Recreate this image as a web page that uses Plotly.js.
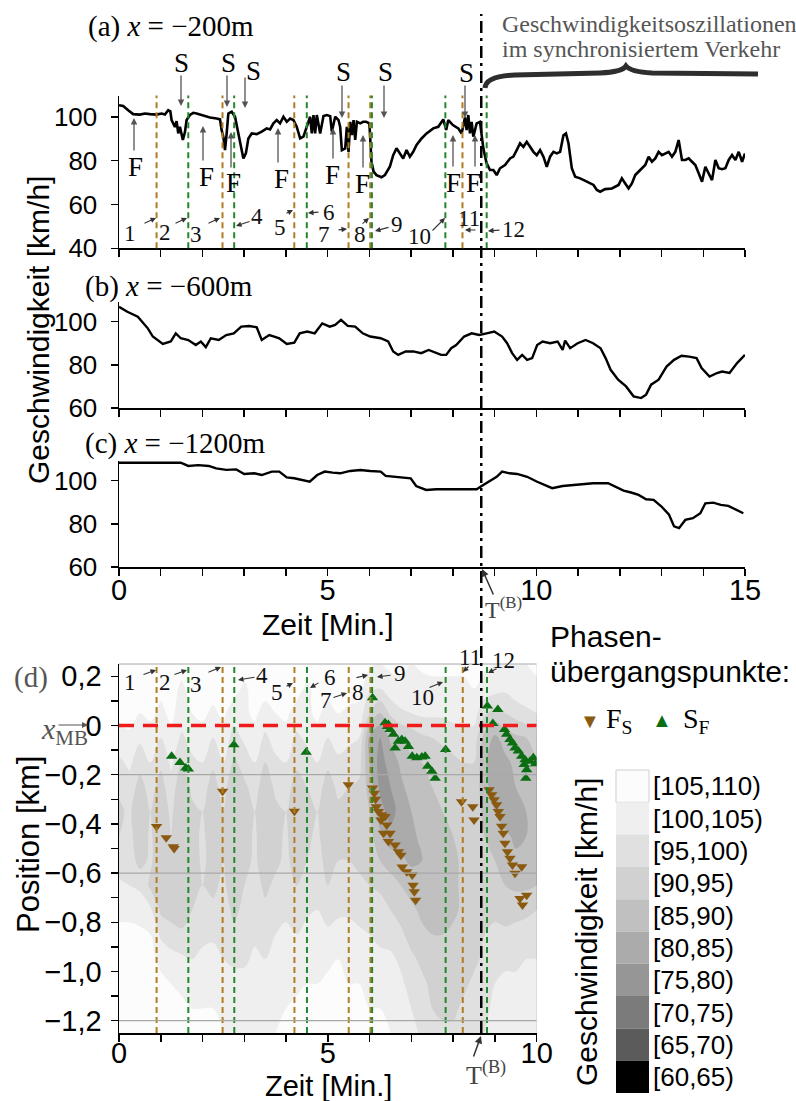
<!DOCTYPE html>
<html><head><meta charset="utf-8">
<script src="https://cdn.plot.ly/plotly-3.0.1.min.js"></script>
<style>html,body{margin:0;padding:0;background:#fff}#chart{width:796px;height:1101px}</style>
</head><body><div id="chart"></div><script>
// ---------------- DATA ----------------
// (a) x = -200 m : time [min], speed [km/h]
const tA = [0,0.1,0.22,0.34,0.5,0.62,0.74,0.9,1.02,1.1,1.18,1.23,1.26,1.34,1.38,1.42,1.46,1.53,1.58,1.62,1.7,1.78,1.86,1.98,2.18,2.34,2.42,2.46,2.5,2.54,2.56,2.58,2.62,2.7,2.78,2.86,2.94,2.98,3.04,3.1,3.18,3.3,3.42,3.54,3.62,3.7,3.78,3.86,3.94,4.02,4.1,4.18,4.26,4.34,4.42,4.5,4.58,4.62,4.66,4.7,4.74,4.82,4.9,4.98,5.06,5.1,5.18,5.26,5.3,5.34,5.42,5.46,5.5,5.54,5.58,5.62,5.66,5.7,5.78,5.85,5.92,6.0,6.05,6.1,6.17,6.29,6.37,6.49,6.57,6.65,6.73,6.81,6.89,6.97,7.05,7.13,7.25,7.37,7.53,7.65,7.77,7.84,7.89,8.0,8.13,8.21,8.29,8.33,8.37,8.41,8.45,8.49,8.53,8.57,8.65,8.69,8.73,8.81,8.89,8.97,9.05,9.13,9.25,9.37,9.45,9.53,9.61,9.69,9.77,9.85,9.93,10.01,10.09,10.17,10.25,10.33,10.41,10.49,10.57,10.65,10.71,10.77,10.85,10.93,11.05,11.21,11.37,11.45,11.53,11.65,11.81,11.97,12.05,12.13,12.21,12.29,12.37,12.49,12.61,12.69,12.77,12.85,12.93,13.01,13.09,13.17,13.25,13.33,13.41,13.49,13.57,13.65,13.73,13.81,13.89,13.97,14.05,14.13,14.21,14.29,14.37,14.45,14.53,14.61,14.69,14.77,14.85,14.93,15.0];
const vA = [105.3,104.9,103,101.2,101,101.5,101.2,101,101.5,101,103,102.5,98.5,95.4,98,92.4,95.4,89.4,93,98.5,100.8,101.8,101.5,100.8,99.7,99.2,98.8,93.9,90.9,84.8,88,92.4,101.5,102.3,100,92.4,85.6,81,83.3,90.1,92.4,92.1,93.2,94.7,94.2,97,98.5,97,100,97.7,99.2,98.5,95.4,90.1,90.9,95.4,100,92.4,100.8,92.4,100.8,92.4,100.3,100.8,100.3,93.2,100,98.5,95.4,84.8,85.6,95.4,84,97.7,91.6,98.5,89.4,97.7,97,97.7,97.7,97,79.5,75,73.4,72.4,73.4,77.2,82.5,85.6,83.3,81,84.8,81.8,84,87.1,90.1,92.4,94.7,95.4,98.8,94,98.5,96.2,94.7,92.4,99.7,93.9,100.8,92.4,97.7,90.9,93.9,97,97.7,92.4,85.6,78.7,75.7,75.7,73.4,76.5,78,81,81.8,84.8,87.9,86.3,88.6,86.3,84,82.5,84.8,81.8,77.2,81.8,84,83.3,84,91.6,92.4,87.9,76.5,72.7,71.9,70.4,68.9,66.6,65.8,67,67.3,68.9,71.9,69.6,67.3,69.6,73.4,75.7,78,81.8,79.5,81,84,82.5,83.3,84,81.8,84,89.4,80.3,80.3,81,79.5,78,74.2,70.4,77.2,74.2,71.1,80.3,76.5,76.1,76.5,80.3,82.5,80.3,84,79.5,83.3];
// (b) x = -600 m
const tB = [0,0.2,0.45,0.69,0.81,1.05,1.24,1.36,1.48,1.66,1.84,1.96,2.08,2.2,2.39,2.57,2.75,2.93,3.12,3.3,3.42,3.6,3.72,3.84,4.02,4.2,4.33,4.51,4.69,4.87,5.05,5.18,5.32,5.48,5.66,5.84,6.02,6.27,6.45,6.57,6.69,6.87,7.05,7.24,7.42,7.6,7.72,7.84,7.96,8.08,8.27,8.45,8.63,8.81,8.99,9.18,9.3,9.42,9.54,9.66,9.78,9.9,10.02,10.15,10.33,10.51,10.63,10.69,10.81,10.99,11.18,11.36,11.54,11.66,11.78,11.96,12.15,12.33,12.51,12.63,12.75,12.93,13.12,13.3,13.48,13.66,13.84,13.96,14.15,14.33,14.45,14.63,14.81,15.0];
const vB = [106.9,104.6,102.3,96.9,93.1,89.7,90.8,94.6,92.3,91.5,89.2,90.8,88.2,92.3,91.5,93.8,94.6,97.7,98,97.4,91.5,93.8,93.1,92.3,89.7,90.3,94.6,95.4,94.6,99.2,97.7,98.5,100.8,98,97.7,94.6,93.1,92.3,90.8,86.2,84.6,86.2,86.2,85.4,86.9,85.4,84.6,84.6,87.7,89.2,93.1,94.6,93.8,94.6,95.4,93.1,90,85.4,82.3,84.6,82.3,83.1,89.2,90.8,90,90.8,86.9,91.2,87.7,90,91.5,90,87.7,83.1,77.7,73.1,70,65.4,64.6,66.2,70.8,73.1,79.2,82.3,84.2,83.8,83.1,78.5,74.6,76.2,76.9,76.2,80.8,84.6];
// (c) x = -1200 m
const tC = [0,1.48,1.66,1.9,2.15,2.33,2.57,2.81,3.0,3.24,3.42,3.66,3.84,4.02,4.2,4.39,4.57,4.75,4.93,5.12,5.3,5.54,5.78,6.02,6.27,6.39,6.57,6.81,6.99,7.12,7.36,7.6,7.84,8.08,8.33,8.57,8.69,8.87,9.05,9.18,9.36,9.54,9.78,10.02,10.2,10.38,10.63,10.99,11.36,11.72,11.9,12.09,12.27,12.45,12.63,12.81,13.0,13.18,13.3,13.42,13.57,13.75,13.93,14.05,14.24,14.42,14.6,14.78,14.96];
const vC = [108.3,108.3,106.8,107.2,106.8,105.7,105,105.2,103.1,103.4,102.6,104.2,104.2,101.5,101.1,100.3,99.5,102.6,104.2,103.7,103.4,104.5,104.9,104.5,104.2,102.2,101.8,101.5,101.1,97.5,95.7,96,96,96,95.7,96,97.5,99.5,101.8,104.2,103.4,103.1,101.8,99.5,98,96.5,97.5,98.3,98.8,98.8,97.2,95.4,94.5,93.4,91.4,91.1,88,84.2,78.8,78,81.8,82.6,84.9,89.5,89.8,88.8,88.3,86.5,84.9];

// (d) speed field: time grid [min], position grid [km], speed [km/h]
const dTime = [0,0.25,0.5,0.75,1,1.25,1.5,1.75,2,2.25,2.5,2.75,3,3.25,3.5,3.75,4,4.25,4.5,4.75,5,5.25,5.5,5.75,6,6.25,6.5,6.75,7,7.25,7.5,7.75,8,8.25,8.5,8.75,9,9.25,9.5,9.75,10];
const dPos = [0.25,0.15,0.05,-0.05,-0.15,-0.25,-0.35,-0.45,-0.55,-0.65,-0.75,-0.85,-0.95,-1.05,-1.15,-1.25];
const speedGrid = [
 [107,107,107,107,107,107,107,107,107,107,107,107,107,107,107,107,107,107,107,107,107,107,107,107,106,105,106,106,105,106,106,106,106,106,106,106,105,104,105,105,106],
 [107,107,107,107,106,107,104,107,107,107,106,107,104,107,107,106,107,107,104,107,107,106,107,107,101,100,103,104,104,103,104,104,104,104,105,103,102,101,103,103,104],
 [106,107,105,106,104,106,103,105,106,104,106,102,104,106,103,105,106,103,104,106,103,105,104,103,95,90,96,99,100,101,101,101,102,102,102,96,93,95,97,99,100],
 [103,104,101,103,100,104,99,102,103,100,103,98,101,103,99,102,103,99,101,103,100,102,101,100,84,80,86,90,92,94,95,96,97,98,98,88,84,87,89,90,92],
 [99,101,97,100,96,101,95,99,100,96,100,94,97,100,95,99,100,96,98,100,96,99,98,97,85,78,82,86,89,90,92,93,94,95,95,86,81,84,86,88,90],
 [96,98,93,97,93,98,91,96,97,93,97,91,94,97,92,96,97,93,95,97,93,96,95,94,88,79,80,84,87,88,90,91,92,93,93,87,82,82,85,86,88],
 [94,96,91,95,92,96,90,94,95,91,95,90,93,95,91,94,95,92,93,95,92,94,93,92,90,82,78,82,85,86,88,90,91,92,92,89,85,82,83,85,86],
 [95,97,91,96,91,95,90,93,96,92,94,90,92,96,91,93,96,91,94,96,92,93,94,93,92,86,82,83,84,86,87,89,90,91,92,90,88,86,84,85,86],
 [97,98,93,96,91,93,90,92,96,93,95,91,93,96,92,94,96,93,95,97,93,95,95,94,94,90,88,86,84,85,86,88,89,91,92,91,90,88,86,87,88],
 [101,100,99,94,91,92,90,93,95,94,96,92,95,97,94,96,97,95,96,98,95,96,97,96,95,94,92,90,88,87,86,87,89,91,92,92,92,90,89,89,90],
 [104,104,103,101,94,93,92,95,97,96,97,94,96,98,96,98,99,97,99,100,98,99,99,98,98,97,95,93,91,89,88,88,89,91,92,93,94,93,93,94,95],
 [106,106,106,105,99,97,96,98,99,99,98,96,97,99,98,100,101,100,102,102,101,102,102,101,100,99,98,96,93,91,90,90,91,92,93,95,96,96,97,97,97],
 [106,106,106,106,104,102,101,100,101,102,100,99,99,101,100,101,102,102,104,104,104,105,104,103,102,101,101,99,96,94,92,92,92,93,94,96,98,99,99,100,100],
 [107,107,106,106,106,105,104,104,103,104,103,102,102,103,103,103,104,104,105,105,106,106,105,105,104,103,103,101,98,96,94,93,93,94,96,98,100,101,101,102,102],
 [107,107,107,107,106,106,106,105,105,105,104,104,104,104,105,104,105,106,106,106,106,106,106,106,105,105,104,103,100,97,95,94,94,96,98,99,101,102,103,103,104],
 [107,107,107,107,107,107,106,106,106,106,105,105,105,105,105,105,106,106,106,106,106,106,106,106,106,106,105,104,102,99,97,96,96,97,99,100,102,103,104,104,105]
];
// phase transition points F->S (down triangles) and S->F (up triangles)
const fsTime = [0.9,1.13,1.3,1.32,2.48,4.2,5.49,6.07,6.11,6.14,6.16,6.21,6.29,6.37,6.27,6.41,6.33,6.49,6.45,6.61,6.69,6.75,6.78,6.89,7.02,7.04,7.07,7.1,8.2,8.47,8.5,8.86,8.92,8.98,9.04,9.08,9.12,9.16,9.2,9.24,9.3,9.36,9.42,9.48,9.64,9.6,9.66,9.76];
const fsPos = [-0.411,-0.456,-0.493,-0.5,-0.267,-0.349,-0.241,-0.254,-0.275,-0.3,-0.33,-0.35,-0.363,-0.37,-0.384,-0.404,-0.438,-0.438,-0.472,-0.486,-0.513,-0.527,-0.575,-0.595,-0.608,-0.649,-0.676,-0.71,-0.31,-0.33,-0.384,-0.261,-0.281,-0.302,-0.322,-0.35,-0.37,-0.41,-0.438,-0.479,-0.513,-0.54,-0.567,-0.601,-0.574,-0.703,-0.73,-0.69];
const sfTime = [1.26,1.46,1.6,1.66,2.75,4.48,6.07,6.37,6.45,6.43,6.49,6.57,6.61,6.69,6.77,6.85,6.93,7.02,7.13,7.25,7.33,7.39,7.49,7.57,7.82,8.82,9.07,8.95,9.23,9.28,9.36,9.42,9.48,9.56,9.64,9.72,9.7,9.76,9.74,9.92,9.97,9.84];
const sfPos = [-0.125,-0.15,-0.173,-0.177,-0.078,-0.109,0.113,0.011,0.004,-0.004,-0.016,-0.036,-0.091,-0.064,-0.057,-0.064,-0.085,-0.125,-0.131,-0.128,-0.125,-0.166,-0.186,-0.214,-0.098,0.079,0.065,0.008,-0.016,-0.036,-0.057,-0.071,-0.091,-0.104,-0.125,-0.139,-0.159,-0.18,-0.214,-0.131,-0.155,-0.145];
// numbered transition times (minutes) and their type
const transitionTimes = [0.9,1.66,2.48,2.76,4.2,4.5,5.5,6.02,6.06,7.82,8.23,8.81];
const transitionKind  = ['FS','SF','FS','SF','FS','SF','FS','FS','SF','SF','FS','SF'];
const tBreak = 8.68;                 // T^(B)
const detectorPos = [-0.2,-0.6,-1.2]; // km
const mbPos = 0;                       // x_MB
const levelLabels = ['[105,110)','[100,105)','[95,100)','[90,95)','[85,90)','[80,85)','[75,80)','[70,75)','[65,70)','[60,65)'];
const levelColors = ['#fcfcfc','#efefef','#e0e0e0','#d1d1d1','#c0c0c0','#ababab','#969696','#7b7b7b','#5b5b5b','#000000'];

// ---------------- LAYOUT HELPERS ----------------
const W = 796, H = 1101;
const px = v => v / W, py = v => 1 - v / H;
const SANS = 'Liberation Sans, Arial, Helvetica, sans-serif';
const SERIF = 'Liberation Serif, Times New Roman, serif';
const BROWN_L = '#b07d24', GREEN_L = '#22882a';
const BROWN_M = '#8a5a10', GREEN_M = '#0c6e12';

const annotations = [];
function T(text, x, y, size, family, color, xanchor) {
  annotations.push({xref:'paper', yref:'paper', x:px(x), y:py(y), text:text, showarrow:false,
    font:{family:family, size:size, color:color}, xanchor:xanchor||'center', yanchor:'middle'});
}
function A(x1, y1, x2, y2, color, width) {
  annotations.push({xref:'paper', yref:'paper', x:px(x2), y:py(y2), ax:x1-x2, ay:y1-y2,
    text:'', showarrow:true, arrowhead:2, arrowsize:1, arrowwidth:width||1.2,
    arrowcolor:color||'#333', standoff:0, startstandoff:0});
}
function TR(text, x, y, size, family, color, angle) {
  annotations.push({xref:'paper', yref:'paper', x:px(x), y:py(y), text:text, showarrow:false, textangle:angle,
    font:{family:family, size:size, color:color}, xanchor:'center', yanchor:'middle'});
}

const baseAxis = {showline:true, linecolor:'#000', linewidth:1.5, ticks:'outside', ticklen:7, tickwidth:1.5,
  tickcolor:'#000', showgrid:false, zeroline:false, fixedrange:true};
const minutes15 = [0,1,2,3,4,5,6,7,8,9,10,11,12,13,14,15];
const minuteText15 = minutes15.map(m => (m % 5 === 0 ? String(m) : ''));
const minutes10 = minutes15.slice(0, 11);
const minuteText10 = minuteText15.slice(0, 11);
const posTicks = [-1.2,-1.1,-1.0,-0.9,-0.8,-0.7,-0.6,-0.5,-0.4,-0.3,-0.2,-0.1,0,0.1,0.2];
const posText = ['\u22121,2','','\u22121,0','','\u22120,8','','\u22120,6','','\u22120,4','','\u22120,2','','0','','0,2'];

function xTop(anchor, labels) {
  return Object.assign({}, baseAxis, {domain:[px(119), px(745)], anchor:anchor, range:[0,15],
    tickvals:minutes15, ticktext:minuteText15, showticklabels:labels, ticklabelstandoff:-10,
    tickfont:{family:SANS, size:29, color:'#000'}});
}
function yTop(domTop, domBot, range, vals) {
  return Object.assign({}, baseAxis, {domain:[py(domBot), py(domTop)], anchor:null, range:range,
    tickvals:vals, ticklabelstandoff:8, tickfont:{family:SANS, size:26, color:'#000'}});
}

const layout = {
  width:W, height:H, margin:{l:0, r:0, t:0, b:0}, paper_bgcolor:'#fff', plot_bgcolor:'rgba(0,0,0,0)',
  showlegend:false,
  xaxis:  xTop('y', false),
  yaxis:  Object.assign(yTop(95.5, 248.3, [40,109.7], [40,60,80,100]), {anchor:'x'}),
  xaxis2: xTop('y2', false),
  yaxis2: Object.assign(yTop(302, 408, [60,109.1], [60,80,100]), {anchor:'x2'}),
  xaxis3: xTop('y3', true),
  yaxis3: Object.assign(yTop(461, 567, [60,109.1], [60,80,100]), {anchor:'x3'}),
  xaxis4: Object.assign({}, baseAxis, {domain:[px(119), px(536.7)], anchor:'y4', range:[0,10],
    tickvals:minutes10, ticktext:minuteText10, ticklabelstandoff:-13, tickfont:{family:SANS, size:29, color:'#000'}}),
  yaxis4: Object.assign({}, baseAxis, {domain:[py(1033), py(664)], anchor:'x4', range:[-1.25,0.25],
    tickvals:posTicks, ticktext:posText, ticklabelstandoff:3, tickfont:{family:SANS, size:29, color:'#000'}}),
  shapes:[], annotations:annotations
};

// vertical transition lines in (a) and (d)
transitionTimes.forEach((t, i) => {
  const col = transitionKind[i] === 'FS' ? BROWN_L : GREEN_L;
  layout.shapes.push({type:'line', xref:'x', yref:'y domain', x0:t, x1:t, y0:0, y1:1,
    line:{color:col, width:2, dash:'6px,4px'}});
  layout.shapes.push({type:'line', xref:'x4', yref:'y4 domain', x0:t, x1:t, y0:0, y1:1,
    line:{color:col, width:2, dash:'6px,4px'}});
});
// detector positions and top border in (d)
detectorPos.forEach(p => layout.shapes.push({type:'line', xref:'x4', yref:'y4', x0:0, x1:10, y0:p, y1:p,
  line:{color:'#a8a8a8', width:1.3}}));
layout.shapes.push({type:'line', xref:'x4', yref:'y4 domain', x0:0, x1:10, y0:1, y1:1, line:{color:'#c4c4c4', width:1.3}});
// x_MB red dashed line
layout.shapes.push({type:'line', xref:'x4', yref:'y4', x0:0, x1:10, y0:mbPos, y1:mbPos,
  line:{color:'#ee1c1c', width:3.5, dash:'15px,9px'}});
// T^(B) dash-dotted line through all panels
layout.shapes.push({type:'line', xref:'x', yref:'paper', x0:tBreak, x1:tBreak, y0:py(1033), y1:py(14),
  line:{color:'#000', width:2.5, dash:'12px,5px,3px,5px'}});
// curly brace
layout.shapes.push({type:'path', xref:'paper', yref:'paper', line:{color:'#2e2e2e', width:5},
  path:`M ${px(485)} ${py(88)} Q ${px(486)} ${py(76)} ${px(515)} ${py(75)} L ${px(600)} ${py(73)} Q ${px(622)} ${py(72)} ${px(626)} ${py(66)} Q ${px(631)} ${py(72)} ${px(652)} ${py(73)} L ${px(758)} ${py(74)}`});
// colour legend boxes
levelColors.forEach((c, i) => {
  const top = 770 + i * 32.3;
  layout.shapes.push({type:'rect', xref:'paper', yref:'paper', x0:px(616), x1:px(649), y0:py(top + 32.3), y1:py(top),
    fillcolor:c, line:{width:i === 0 ? 1 : 0, color:'#cfcfcf'}});
  T(levelLabels[i], 651, top + 16.5, 26, SANS, '#000', 'left');
});

// ---------------- TEXT ----------------
T('(a) <i>x</i> = \u2212200m', 86, 26, 29, SERIF, '#000', 'left');
T('(b) <i>x</i> = \u2212600m', 83, 286, 29, SERIF, '#000', 'left');
T('(c) <i>x</i> = \u22121200m', 83, 444, 29, SERIF, '#000', 'left');
T('Geschwindigkeitsoszillationen', 500, 24, 24, SERIF, '#555', 'left');
T('im synchronisiertem Verkehr', 500, 49, 24, SERIF, '#555', 'left');
TR('Geschwindigkeit [km/h]', 38, 330, 30, SANS, '#000', -90);
T('Zeit [Min.]', 328, 624, 30, SANS, '#000');
T('Zeit [Min.]', 328, 1086, 29, SANS, '#000');
TR('Position [km]', 28, 845, 31, SANS, '#000', -90);
T('(d)', 31, 677, 29, SERIF, '#555');
T('<i>x</i><sub>MB</sub>', 64, 731, 30, SERIF, '#555');
A(57, 725, 88, 725, '#555', 1.2);
T('T<sup>(B)</sup>', 503, 608, 24, SERIF, '#444');
A(494, 596, 482, 569, '#333', 1.5);
T('T<sup>(B)</sup>', 486, 1073, 26, SERIF, '#444');
A(473, 1058, 481, 1036, '#333', 1.5);

// S / F labels with arrows in (a)
[[181,63,181,74,181,106],[228,63,227,74,227,107],[253,71,245,76,245,108],[343,72,342,84,342,118],[385,72,384,84,384,118],[466,73,465,84,465,118]]
  .forEach(s => { T('S', s[0], s[1], 27, SERIF, '#000'); A(s[2], s[3], s[4], s[5], '#555', 1.3); });
[[135,167,134,152,134,118],[206,177,203,162,203,126],[233,183,231,169,231,132],[281,179,278,164,278,128],[332,175,333,160,333,128],[362,184,363,169,363,135],[453,183,453,168,453,135],[473,183,475,168,475,135]]
  .forEach(f => { T('F', f[0], f[1], 27, SERIF, '#000'); A(f[2], f[3], f[4], f[5], '#555', 1.3); });

// numbered labels in (a)
[['1',130,233,143,224,156,218],['2',165,232,174,224,187,218],['3',196,235,207,224,220,218],['4',257,216,251,221,236,226],
 ['5',280,227,285,214,293,210],['6',329,213,320,212,308,213],['7',324,234,337,230,347,229],['8',360,235,361,225,369,218],
 ['9',397,224,390,227,375,231],['10',420,237,431,232,445,218],['11',469,219,477,230,465,230],['12',513,230,501,230,488,231]]
  .forEach(n => { T(n[0], n[1], n[2], 23, SERIF, '#111'); A(n[3], n[4], n[5], n[6], '#333', 1.1); });
// numbered labels in (d)
[['1',130,683,142,675,156,670],['2',165,683,173,675,187,670],['3',196,684,207,673,221,667],['4',262,675,256,677,238,680],
 ['5',277,692,285,687,293,683],['6',330,677,320,682,310,688],['7',326,700,332,698,347,693],['8',358,692,355,678,368,675],
 ['9',400,673,392,675,377,677],['10',422,697,428,688,443,682],['11',470,657,470,665,463,672],['12',503,660,498,668,488,673]]
  .forEach(n => { T(n[0], n[1], n[2], 23, SERIF, '#111'); A(n[3], n[4], n[5], n[6], '#333', 1.1); });

// legend
T('Phasen-', 548, 636, 30, SANS, '#000', 'left');
T('\u00fcbergangspunkte:', 548, 671, 30, SANS, '#000', 'left');
T('\u25BC', 590, 721, 20, SANS, BROWN_M);
T('F<sub>S</sub>', 619, 720, 28, SERIF, '#000');
T('\u25B2', 662, 720, 20, SANS, GREEN_M);
T('S<sub>F</sub>', 696, 720, 28, SERIF, '#000');
TR('Geschwindigkeit [km/h]', 586, 932, 30, SANS, '#000', -90);

// ---------------- TRACES ----------------
const stepScale = [];
levelColors.slice().reverse().forEach((c, i) => { stepScale.push([i / 10, c]); stepScale.push([(i + 1) / 10, c]); });

const traces = [
  {type:'contour', x:dTime, y:dPos, z:speedGrid, xaxis:'x4', yaxis:'y4', autocontour:false,
   contours:{start:65, end:105, size:5, coloring:'fill', showlines:false}, line:{width:0, smoothing:1},
   colorscale:stepScale, showscale:false, hoverinfo:'skip'},
  {type:'scatter', mode:'lines', x:tA, y:vA, xaxis:'x', yaxis:'y', line:{color:'#000', width:2.6}, hoverinfo:'skip'},
  {type:'scatter', mode:'lines', x:tB, y:vB, xaxis:'x2', yaxis:'y2', line:{color:'#000', width:2.4}, hoverinfo:'skip'},
  {type:'scatter', mode:'lines', x:tC, y:vC, xaxis:'x3', yaxis:'y3', line:{color:'#000', width:2.4}, hoverinfo:'skip'},
  {type:'scatter', mode:'markers', x:fsTime, y:fsPos, xaxis:'x4', yaxis:'y4', name:'F_S',
   marker:{symbol:'triangle-down', size:10, color:BROWN_M}, hoverinfo:'skip'},
  {type:'scatter', mode:'markers', x:sfTime, y:sfPos, xaxis:'x4', yaxis:'y4', name:'S_F',
   marker:{symbol:'triangle-up', size:10, color:GREEN_M}, hoverinfo:'skip'}
];

Plotly.newPlot('chart', traces, layout, {staticPlot:true, displayModeBar:false});
</script></body></html>
